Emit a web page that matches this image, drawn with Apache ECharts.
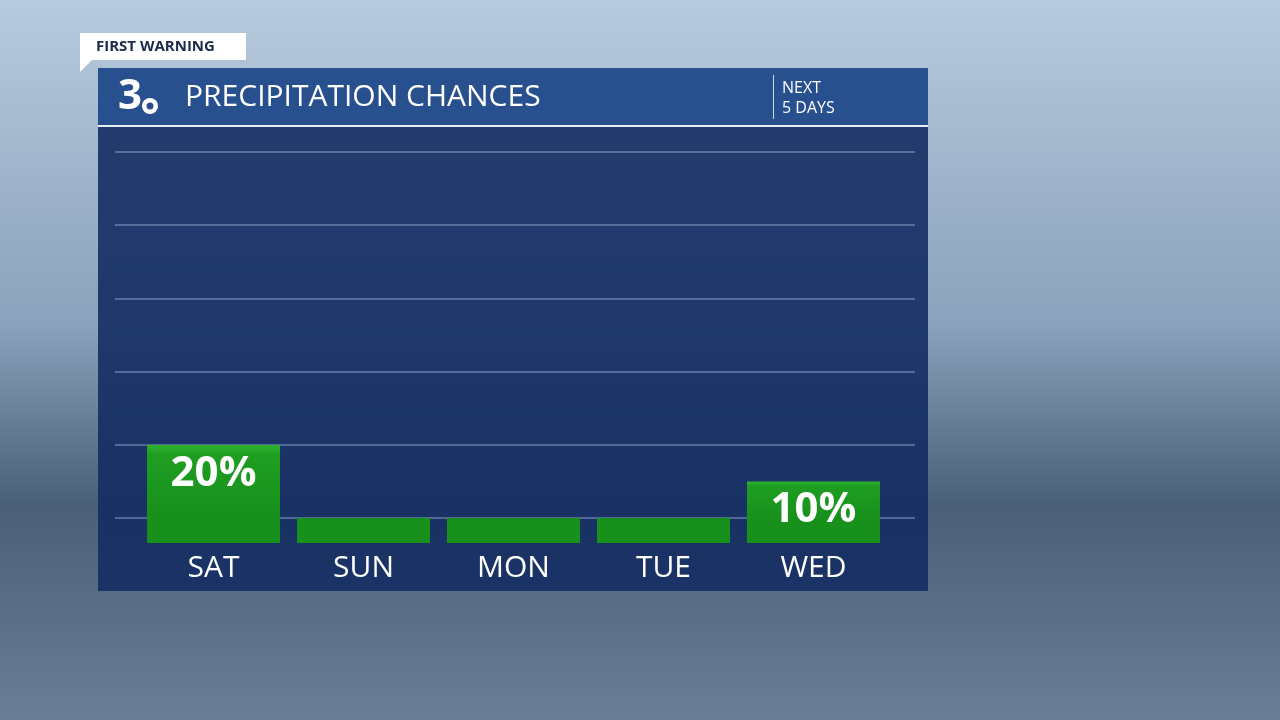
<!DOCTYPE html>
<html><head><meta charset="utf-8">
<script src="https://cdn.jsdelivr.net/npm/echarts@6/dist/echarts.min.js"></script>
<style>html,body{margin:0;padding:0;}#c{width:1280px;height:720px;}</style>
</head><body><div id="c"></div>
<script>
const days = ['SAT','SUN','MON','TUE','WED'];
const chances = [20, 0, 0, 0, 10];
const gridValues = [0, 20, 40, 60, 80, 100];
const stub = -6.8;

const chart = echarts.init(document.getElementById('c'));
const green = {type:'linear',x:0,y:0,x2:0,y2:1,colorStops:[{offset:0,color:'#2fb52f'},{offset:0.12,color:'#1f9e22'},{offset:1,color:'#17901c'}]};
chart.setOption({
  backgroundColor: {type:'linear',x:0,y:0,x2:0,y2:1,colorStops:[
    {offset:0,color:'#b8cadd'},{offset:0.45,color:'#8aa2bc'},{offset:0.7,color:'#4a5f78'},{offset:1,color:'#6a7e95'}]},
  graphic: [
    {type:'rect',shape:{x:98,y:68,width:830,height:523},style:{fill:'rgba(20,44,98,0.9)'},z:0},
    {type:'rect',shape:{x:98,y:68,width:830,height:57},style:{fill:'#28508e'},z:1},
    {type:'rect',shape:{x:98,y:125,width:830,height:2},style:{fill:'#e8eef6'},z:1},
    {type:'rect',shape:{x:80,y:33,width:166,height:27},style:{fill:'#ffffff'},z:2},
    {type:'polygon',shape:{points:[[80,60],[92,60],[80,72]]},style:{fill:'#ffffff'},z:2},
    {type:'text',x:96,y:39,style:{text:'FIRST WARNING',fill:'#1a2a4a',font:'bold 15px "Open Sans", sans-serif'},z:3},
    {type:'text',x:118,y:76,style:{text:'3',fill:'#ffffff',font:'bold 42px "Open Sans", sans-serif'},z:3},
    {type:'circle',shape:{cx:150,cy:106,r:8},style:{fill:'#ffffff'},z:3},
    {type:'circle',shape:{cx:150,cy:106,r:3.5},style:{fill:'#28508e'},z:4},
    {type:'text',x:185,y:82,style:{text:'PRECIPITATION CHANCES',fill:'#ffffff',font:'30px "Open Sans", sans-serif'},z:3},
    {type:'rect',shape:{x:773,y:75,width:1,height:44},style:{fill:'#d0dae8'},z:3},
    {type:'text',x:782,y:78,style:{text:'NEXT\n5 DAYS',fill:'#ffffff',font:'16px "Open Sans", sans-serif',lineHeight:20},z:3}
  ],
  grid:{left:115,right:365,top:152,bottom:177},
  xAxis:{type:'value',min:-0.657,max:4.677,show:false},
  yAxis:{type:'value',min:stub,max:100,show:false},
  series:[
    {type:'line',data:[],z:1,
     markLine:{silent:true,symbol:'none',z:1,label:{show:false},lineStyle:{color:'rgba(150,175,210,0.45)',width:2,type:'solid'},
       data: gridValues.map(v=>({yAxis:v}))}
    },
    {type:'bar',barWidth:133,z:10,
     data: days.map((d,i)=>[i,stub]),
     itemStyle:{color:'#17901c'},
     label:{show:true,position:'bottom',distance:10,formatter:p=>days[p.dataIndex],color:'#ffffff',fontSize:30,fontFamily:'Open Sans'}
    },
    {type:'bar',barWidth:133,barGap:'-100%',z:10,
     data: chances.map((v,i)=>[i,v]),
     itemStyle:{color:green},
     label:{show:true,position:'insideTop',distance:8,formatter:p=>p.value[1]>0?p.value[1]+'%':'',color:'#ffffff',fontSize:42,fontWeight:'bold',fontFamily:'Open Sans'}
    }
  ]
});
</script></body></html>
